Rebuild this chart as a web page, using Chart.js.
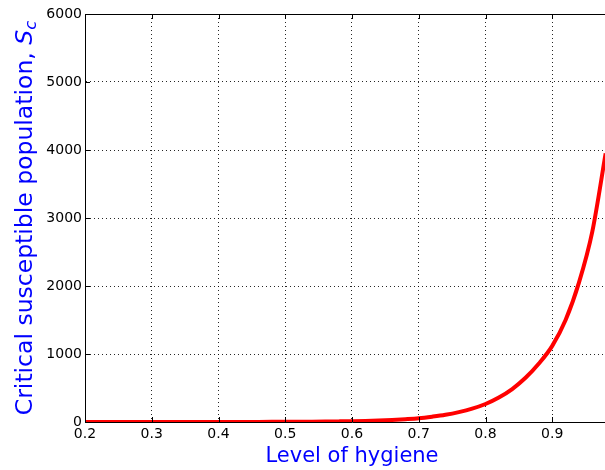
<!DOCTYPE html>
<html>
<head>
<meta charset="utf-8">
<script src="https://cdn.jsdelivr.net/npm/chart.js@4"></script>
<style>
  html, body { margin: 0; padding: 0; background: #fff; }
  /* the axes run on to h = 1.0, a little past the right edge of the view */
  #wrap { width: 605px; height: 470px; overflow: hidden; }
</style>
</head>
<body>
<div id="wrap"><canvas id="hygieneChart" width="619" height="470"></canvas></div>
<script>
// level of hygiene (x) and critical susceptible population S_c (y)
var hygiene = [0.20, 0.22, 0.24, 0.26, 0.28, 0.30, 0.32, 0.34, 0.36, 0.38,
               0.40, 0.42, 0.44, 0.46, 0.48, 0.50, 0.52, 0.54, 0.56, 0.58,
               0.60, 0.62, 0.64, 0.66, 0.68, 0.70, 0.72, 0.74, 0.76, 0.78,
               0.80, 0.82, 0.84, 0.86, 0.88, 0.90, 0.92, 0.94, 0.96, 0.98];
var criticalS = [0.03, 0.04, 0.05, 0.07, 0.09, 0.12, 0.16, 0.22, 0.3, 0.4,
                 0.55, 0.75, 1.0, 1.4, 1.9, 2.6, 3.5, 4.8, 6.5, 9,
                 12, 16, 22, 30, 41, 55, 78, 106, 145, 196,
                 265, 360, 485, 650, 860, 1120, 1500, 2050, 2800, 3950];
var xTicks = [0.2, 0.3, 0.4, 0.5, 0.6, 0.7, 0.8, 0.9];
var yTicks = [0, 1000, 2000, 3000, 4000, 5000, 6000];

var xTitle = 'Level of hygiene';
var yTitle = 'Critical susceptible population, ';

var points = hygiene.map(function (h, i) { return { x: h, y: criticalS[i] }; });

var tickFont = { family: 'DejaVu Sans', size: 14 };
var dotted = 'rgba(0, 0, 0, 0.85)';

// top spine, inward tick marks and the rotated y label with its S_c subscript
var framePlugin = {
    id: 'frame',
    afterDraw: function (chart) {
        var ctx = chart.ctx;
        var a = chart.chartArea;
        var xs = chart.scales.x, ys = chart.scales.y;
        ctx.save();
        ctx.strokeStyle = '#000';
        ctx.lineWidth = 1;
        ctx.beginPath();
        ctx.moveTo(a.left, a.top + 0.5);
        ctx.lineTo(a.right, a.top + 0.5);
        xTicks.forEach(function (v) {
            var px = Math.round(xs.getPixelForValue(v)) + 0.5;
            ctx.moveTo(px, a.bottom);
            ctx.lineTo(px, a.bottom - 5);
            ctx.moveTo(px, a.top);
            ctx.lineTo(px, a.top + 5);
        });
        yTicks.forEach(function (v) {
            var py = Math.round(ys.getPixelForValue(v)) + 0.5;
            ctx.moveTo(a.left, py);
            ctx.lineTo(a.left + 5, py);
        });
        ctx.stroke();
        ctx.restore();

        ctx.save();
        var normal = '23.5px "DejaVu Sans"';
        var ital = 'italic 23.5px "DejaVu Sans"';
        var sub = 'italic 16.5px "DejaVu Sans"';
        ctx.font = normal;
        var w1 = ctx.measureText(yTitle).width;
        ctx.font = ital;
        var w2 = ctx.measureText('S').width;
        ctx.font = sub;
        var w3 = ctx.measureText('c').width;
        var total = w1 + w2 + w3;
        ctx.translate(32, (a.top + a.bottom) / 2);
        ctx.rotate(-Math.PI / 2);
        ctx.fillStyle = '#0000ff';
        ctx.textBaseline = 'alphabetic';
        ctx.textAlign = 'left';
        var x0 = -total / 2;
        ctx.font = normal;
        ctx.fillText(yTitle, x0, 0);
        ctx.font = ital;
        ctx.fillText('S', x0 + w1, 0);
        ctx.font = sub;
        ctx.fillText('c', x0 + w1 + w2, 4);
        ctx.restore();
    }
};

var ctx = document.getElementById('hygieneChart').getContext('2d');
var chart = new Chart(ctx, {
    type: 'scatter',
    data: {
        datasets: [{
            label: 'S_c',
            data: points,
            showLine: true,
            borderColor: '#ff0000',
            backgroundColor: '#ff0000',
            borderWidth: 4,
            pointRadius: 0,
            cubicInterpolationMode: 'monotone'
        }]
    },
    options: {
        responsive: false,
        animation: false,
        layout: { padding: { top: 14, right: 0, left: 0, bottom: 0 } },
        plugins: {
            legend: { display: false },
            tooltip: { enabled: false }
        },
        scales: {
            x: {
                type: 'linear',
                min: 0.2,
                max: 1.0,
                afterBuildTicks: function (scale) {
                    scale.ticks = xTicks.map(function (v) { return { value: v }; });
                },
                afterFit: function (scale) { scale.height = 48; },
                ticks: {
                    font: tickFont,
                    color: '#000',
                    padding: 4,
                    maxRotation: 0,
                    callback: function (v) { return v.toFixed(1); }
                },
                grid: { color: dotted, lineWidth: 1, drawTicks: false },
                border: { display: true, color: '#000', width: 1, dash: [1, 3] },
                title: {
                    display: true,
                    text: xTitle,
                    color: '#0000ff',
                    font: { family: 'DejaVu Sans', size: 21 },
                    padding: { top: 0, bottom: 1 }
                }
            },
            y: {
                min: 0,
                max: 6000,
                afterBuildTicks: function (scale) {
                    scale.ticks = yTicks.map(function (v) { return { value: v }; });
                },
                afterFit: function (scale) { scale.width = 85; },
                ticks: {
                    font: tickFont,
                    color: '#000',
                    padding: 3,
                    callback: function (v) { return String(v); }
                },
                grid: { color: dotted, lineWidth: 1, drawTicks: false },
                border: { display: true, color: '#000', width: 1, dash: [1, 3] }
            }
        }
    },
    plugins: [framePlugin]
});
</script>
</body>
</html>
